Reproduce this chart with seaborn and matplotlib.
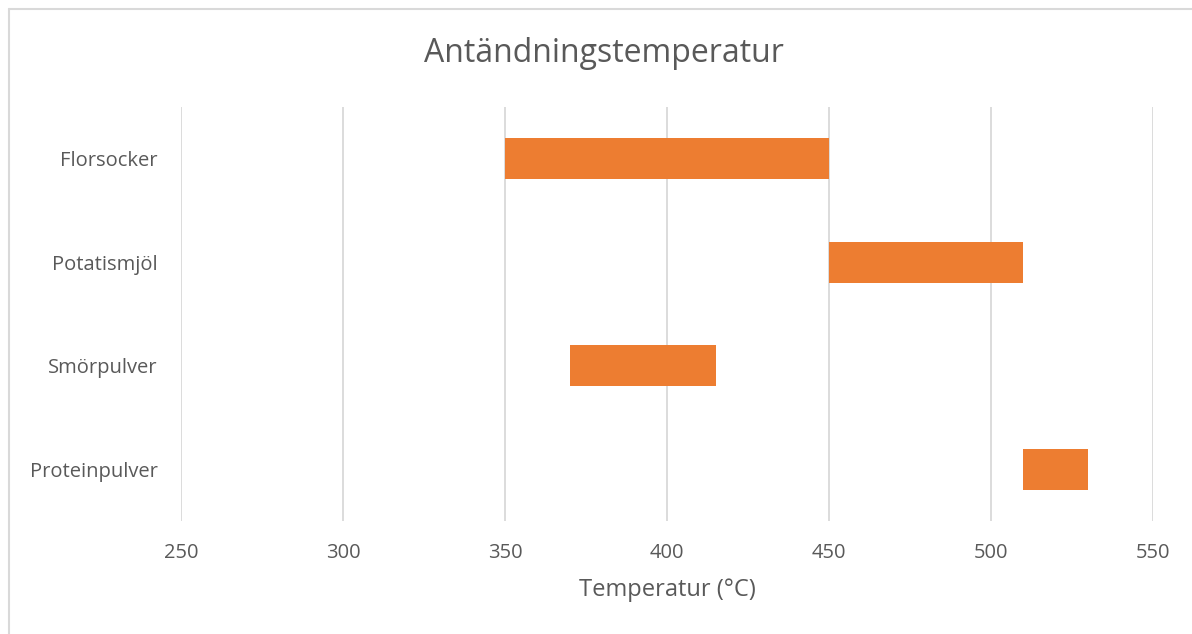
import matplotlib
matplotlib.use("Agg")
import matplotlib.pyplot as plt
import seaborn as sns
import pandas as pd
from matplotlib.lines import Line2D

categories = ["Florsocker", "Potatismjöl", "Smörpulver", "Proteinpulver"]
start_temp = [350, 450, 370, 510]
end_temp = [450, 510, 415, 530]
x_ticks = [250, 300, 350, 400, 450, 500, 550]

df = pd.DataFrame({"Ämne": categories, "start": start_temp, "end": end_temp})
df["span"] = df["end"] - df["start"]

sns.set_theme(style="white")
plt.rcParams["font.family"] = ["Open Sans", "DejaVu Sans"]

text_color = "#595959"
grid_color = "#D9D9D9"
bar_color = "#ED7D31"

fig = plt.figure(figsize=(11.92, 6.34), dpi=100)
ax = fig.add_axes([181 / 1192, 1 - 521 / 634, (1153 - 181) / 1192, (521 - 107) / 634])

sns.barplot(data=df, x="span", y="Ämne", order=categories, left=df["start"].tolist(),
            color=bar_color, saturation=1, width=0.40, ax=ax, errorbar=None, zorder=3,
            linewidth=0)

ax.set_xlim(x_ticks[0], x_ticks[-1])
ax.set_ylim(3.5, -0.5)
ax.set_xticks(x_ticks)
ax.set_xticklabels([str(t) for t in x_ticks])
for t in x_ticks:
    ax.axvline(t, color=grid_color, linewidth=1.3, zorder=0)
for s in ax.spines.values():
    s.set_visible(False)
ax.tick_params(axis="both", length=0, labelsize=14.5, labelcolor=text_color)
ax.tick_params(axis="x", pad=16)
ax.tick_params(axis="y", pad=17)
ax.set_ylabel("")
ax.set_xlabel("Temperatur (°C)", fontsize=17, color=text_color, labelpad=11)

fig.text(604 / 1192, 1 - 53 / 634, "Antändningstemperatur", ha="center", va="center",
         fontsize=23, color=text_color)

# outer chart border (top and left visible)
fig.add_artist(Line2D([8.5 / 1192, 1.0], [1 - 8.5 / 634] * 2, transform=fig.transFigure,
                      color=grid_color, linewidth=1.5))
fig.add_artist(Line2D([8.5 / 1192] * 2, [0.0, 1 - 8.5 / 634], transform=fig.transFigure,
                      color=grid_color, linewidth=1.5))

fig.savefig("out.png", dpi=100, facecolor="white")
